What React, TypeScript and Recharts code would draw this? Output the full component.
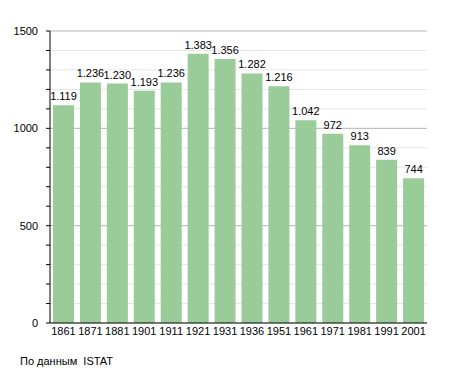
import React from "react";
import { BarChart, Bar, XAxis, YAxis, CartesianGrid, LabelList } from "recharts";

const YEARS = ["1861", "1871", "1881", "1901", "1911", "1921", "1931", "1936", "1951", "1961", "1971", "1981", "1991", "2001"];
const POPULATION = [1119, 1236, 1230, 1193, 1236, 1383, 1356, 1282, 1216, 1042, 972, 913, 839, 744];
const Y_TICKS = [0, 100, 200, 300, 400, 500, 600, 700, 800, 900, 1000, 1100, 1200, 1300, 1400, 1500];

const data = YEARS.map((year, i) => ({ year, value: POPULATION[i] }));

const FONT = "'Liberation Sans', Arial, sans-serif";

function formatThousands(v: number): string {
    return String(v).replace(/\B(?=(\d{3})+(?!\d))/g, ".");
}

// major lines every 500 are darker, the rest are faint
function GridLine(props: any) {
    const { x1, x2, y1, y2, index } = props;
    const value = Y_TICKS[index];
    const major = value !== undefined && value % 500 === 0 && value !== 0;
    return <line x1={x1} x2={x2} y1={y1} y2={y2} stroke={major ? "#b4b4b4" : "#e6e6e6"} fill="none" />;
}

export default function App() {
    return (
        <div style={{ position: "absolute", left: 0, top: 0, width: 455, height: 373, background: "#fff", fontFamily: FONT }}>
            <BarChart
                width={455}
                height={373}
                data={data}
                margin={{ top: 31, right: 28, bottom: 30, left: 0 }}
                barCategoryGap={3}
            >
                <CartesianGrid vertical={false} horizontal={(p: any) => <GridLine key={p.key ?? p.index} {...p} />} />
                <XAxis
                    dataKey="year"
                    axisLine={{ stroke: "#000" }}
                    tickLine={false}
                    tickSize={0}
                    tickMargin={4}
                    interval={0}
                    height={20}
                    tick={{ fill: "#000", fontSize: 11, fontFamily: FONT }}
                />
                <YAxis
                    domain={[0, 1500]}
                    ticks={Y_TICKS}
                    interval={0}
                    width={50}
                    axisLine={{ stroke: "#000" }}
                    tickLine={{ stroke: "#000" }}
                    tickSize={4}
                    tickMargin={8}
                    tickFormatter={(v: number) => (v % 500 === 0 ? String(v) : "")}
                    tick={{ fill: "#000", fontSize: 11, fontFamily: FONT }}
                />
                <Bar dataKey="value" fill="#99cc99" isAnimationActive={false}>
                    <LabelList
                        dataKey="value"
                        position="top"
                        offset={5}
                        formatter={(v: number) => formatThousands(v)}
                        style={{ fill: "#000", fontSize: 11, fontFamily: FONT }}
                    />
                </Bar>
            </BarChart>
            <div style={{ position: "absolute", left: 20, top: 355, fontSize: 11, color: "#000" }}>
                По данным&nbsp; ISTAT
            </div>
        </div>
    );
}
